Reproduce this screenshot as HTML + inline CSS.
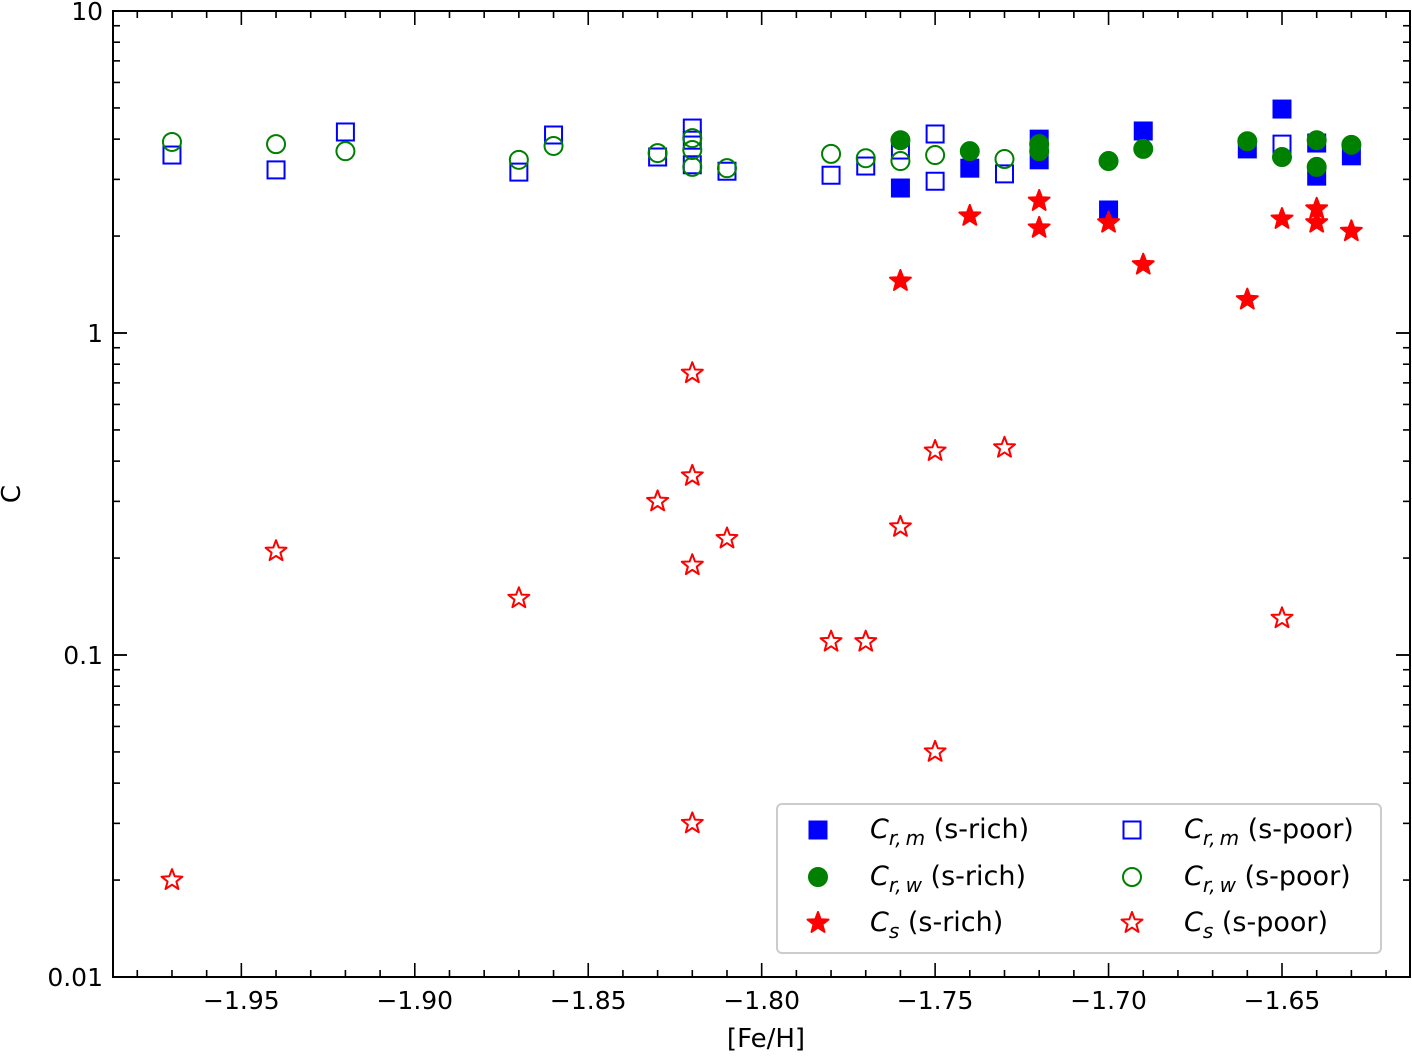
<!DOCTYPE html>
<html><head><meta charset="utf-8"><style>
body{margin:0;background:#fff;}
svg text{font-family:"DejaVu Sans","Liberation Sans",sans-serif;}
</style></head><body>
<svg id="chart" width="1412" height="1053" viewBox="0 0 1412 1053" xmlns="http://www.w3.org/2000/svg"></svg>
<script>
// data
const rmRichX=[-1.76,-1.74,-1.72,-1.72,-1.70,-1.69,-1.66,-1.65,-1.64,-1.64,-1.63];
const rmRichY=[2.82,3.25,4.0,3.45,2.41,4.24,3.73,4.96,3.07,3.89,3.55];
const rwRichX=[-1.76,-1.74,-1.72,-1.72,-1.70,-1.69,-1.66,-1.65,-1.64,-1.64,-1.63];
const rwRichY=[3.97,3.67,3.86,3.67,3.42,3.73,3.94,3.52,3.97,3.28,3.84];
const sRichX=[-1.76,-1.74,-1.72,-1.72,-1.70,-1.69,-1.66,-1.65,-1.64,-1.64,-1.63];
const sRichY=[1.45,2.31,2.57,2.12,2.20,1.63,1.27,2.26,2.43,2.20,2.07];
const rmPoorX=[-1.97,-1.94,-1.92,-1.87,-1.86,-1.83,-1.82,-1.82,-1.82,-1.81,-1.78,-1.77,-1.76,-1.75,-1.75,-1.73,-1.65];
const rmPoorY=[3.57,3.21,4.21,3.16,4.12,3.52,4.33,3.97,3.33,3.18,3.09,3.30,3.70,4.15,2.96,3.12,3.86];
const rwPoorX=[-1.97,-1.94,-1.92,-1.87,-1.86,-1.83,-1.82,-1.82,-1.82,-1.81,-1.78,-1.77,-1.76,-1.75,-1.73];
const rwPoorY=[3.92,3.86,3.67,3.45,3.81,3.62,4.03,3.70,3.28,3.25,3.60,3.49,3.42,3.57,3.47];
const sPoorX=[-1.97,-1.94,-1.87,-1.83,-1.82,-1.82,-1.82,-1.82,-1.81,-1.78,-1.77,-1.76,-1.75,-1.75,-1.73,-1.65];
const sPoorY=[0.02,0.21,0.15,0.30,0.75,0.36,0.19,0.03,0.23,0.11,0.11,0.25,0.43,0.05,0.44,0.13];
const xTicks=[-1.95,-1.90,-1.85,-1.80,-1.75,-1.70,-1.65];
const yTicks=[0.01,0.1,1,10];
const yTickLabels=["0.01","0.1","1","10"];

const L=113,R=1410,T=11,B=977;
const xMin=-1.987,xMax=-1.6131;
const X=v=>L+(v-xMin)/(xMax-xMin)*(R-L);
const Y=v=>B-(Math.log10(v)-(-2))/3*(B-T);
const svg=document.getElementById('chart');
const NS='http://www.w3.org/2000/svg';
function mk(tag,attrs,parent){const e=document.createElementNS(NS,tag);for(const k in attrs)e.setAttribute(k,attrs[k]);(parent||svg).appendChild(e);return e;}

const frame=mk('rect',{x:L,y:T,width:R-L,height:B-T,fill:'none',stroke:'#000','stroke-width':2});


const ticks=mk('g',{stroke:'#000'});


for(let i=0;i<=40;i++){const v=-1.99+i*0.01;if(v<xMin||v>xMax)continue;const x=X(v);
 const major=Math.abs(Math.round(v*100)%5)===0;const len=major?14:7;
 mk('line',{x1:x,x2:x,y1:B,y2:B-len,'stroke-width':1.6},ticks);
 mk('line',{x1:x,x2:x,y1:T,y2:T+len,'stroke-width':1.6},ticks);}
xTicks.forEach(v=>{const t=mk('text',{x:X(v),y:1009,'font-size':25,'text-anchor':'middle'});t.textContent='\u2212'+Math.abs(v).toFixed(2);
 });
for(let d=-2;d<1;d++){for(let m=1;m<=10;m++){const v=m*Math.pow(10,d);const y=Y(v);const len=(m===1||m===10)?14:7;
 mk('line',{x1:L,x2:L+len,y1:y,y2:y,'stroke-width':1.6},ticks);mk('line',{x1:R,x2:R-len,y1:y,y2:y,'stroke-width':1.6},ticks);}}
yTicks.forEach((v,i)=>{const t=mk('text',{x:103,y:Y(v)+9,'font-size':25,'text-anchor':'end'});t.textContent=yTickLabels[i];
 });
const xt=mk('text',{x:766,y:1047,'font-size':26,'text-anchor':'middle'});xt.textContent='[Fe/H]';

const yt=mk('text',{x:20,y:494,'font-size':26,'text-anchor':'middle',transform:'rotate(-90 20 494)'});yt.textContent='C';


function starPts(cx,cy,r){let p=[];for(let i=0;i<10;i++){const a=-Math.PI/2+i*Math.PI/5;const rr=i%2?r*0.42:r;p.push((cx+rr*Math.cos(a)).toFixed(1)+','+(cy+rr*Math.sin(a)).toFixed(1));}return p.join(' ');}
function marker(type,color,filled,cx,cy,parent){
 const fill=filled?color:'none';
 if(type==='s')return mk('rect',{x:cx-8.5,y:cy-8.5,width:17,height:17,fill:fill,stroke:color,'stroke-width':2},parent);
 if(type==='o')return mk('circle',{cx:cx,cy:cy,r:9,fill:fill,stroke:color,'stroke-width':2},parent);
 return mk('polygon',{points:starPts(cx,cy,11),fill:fill,stroke:color,'stroke-width':2,'stroke-linejoin':'round'},parent);
}
const series=[
 ['s','#0000ff',false,rmPoorX,rmPoorY,'cr-m-s-poor'],
 ['o','#008000',false,rwPoorX,rwPoorY,'cr-w-s-poor'],
 ['*','#ff0000',false,sPoorX,sPoorY,'cs-s-poor'],
 ['s','#0000ff',true,rmRichX,rmRichY,'cr-m-s-rich'],
 ['o','#008000',true,rwRichX,rwRichY,'cr-w-s-rich'],
 ['*','#ff0000',true,sRichX,sRichY,'cs-s-rich']];
series.forEach(s=>{const g=mk('g',{});
 s[3].forEach((x,i)=>{const m=marker(s[0],s[1],s[2],X(x),Y(s[4][i]),g);
 });});

const lg=mk('g',{});
mk('rect',{x:777,y:804,width:604,height:149,rx:5,fill:'#fff','fill-opacity':0.85,stroke:'#ccc','stroke-width':2},lg);
const entries=[
 ['s','#0000ff',true,818,830,'m','s-rich'],['s','#0000ff',false,1132,830,'m','s-poor'],
 ['o','#008000',true,818,877,'w','s-rich'],['o','#008000',false,1132,877,'w','s-poor'],
 ['*','#ff0000',true,818,923,'','s-rich'],['*','#ff0000',false,1132,923,'','s-poor']];
entries.forEach(e=>{const g=mk('g',{},lg);
 marker(e[0],e[1],e[2],e[3],e[4],g);
 const t=mk('text',{x:e[3]+52,y:e[4]+8,'font-size':27},g);
 if(e[5])t.innerHTML='<tspan font-style="italic">C</tspan><tspan font-size="20" dy="7" font-style="italic">r,\u2009'+e[5]+'</tspan><tspan dy="-7"> ('+e[6]+')</tspan>';
 else t.innerHTML='<tspan font-style="italic">C</tspan><tspan font-size="20" dy="7" font-style="italic">s</tspan><tspan dy="-7"> ('+e[6]+')</tspan>';});
</script>
</body></html>
